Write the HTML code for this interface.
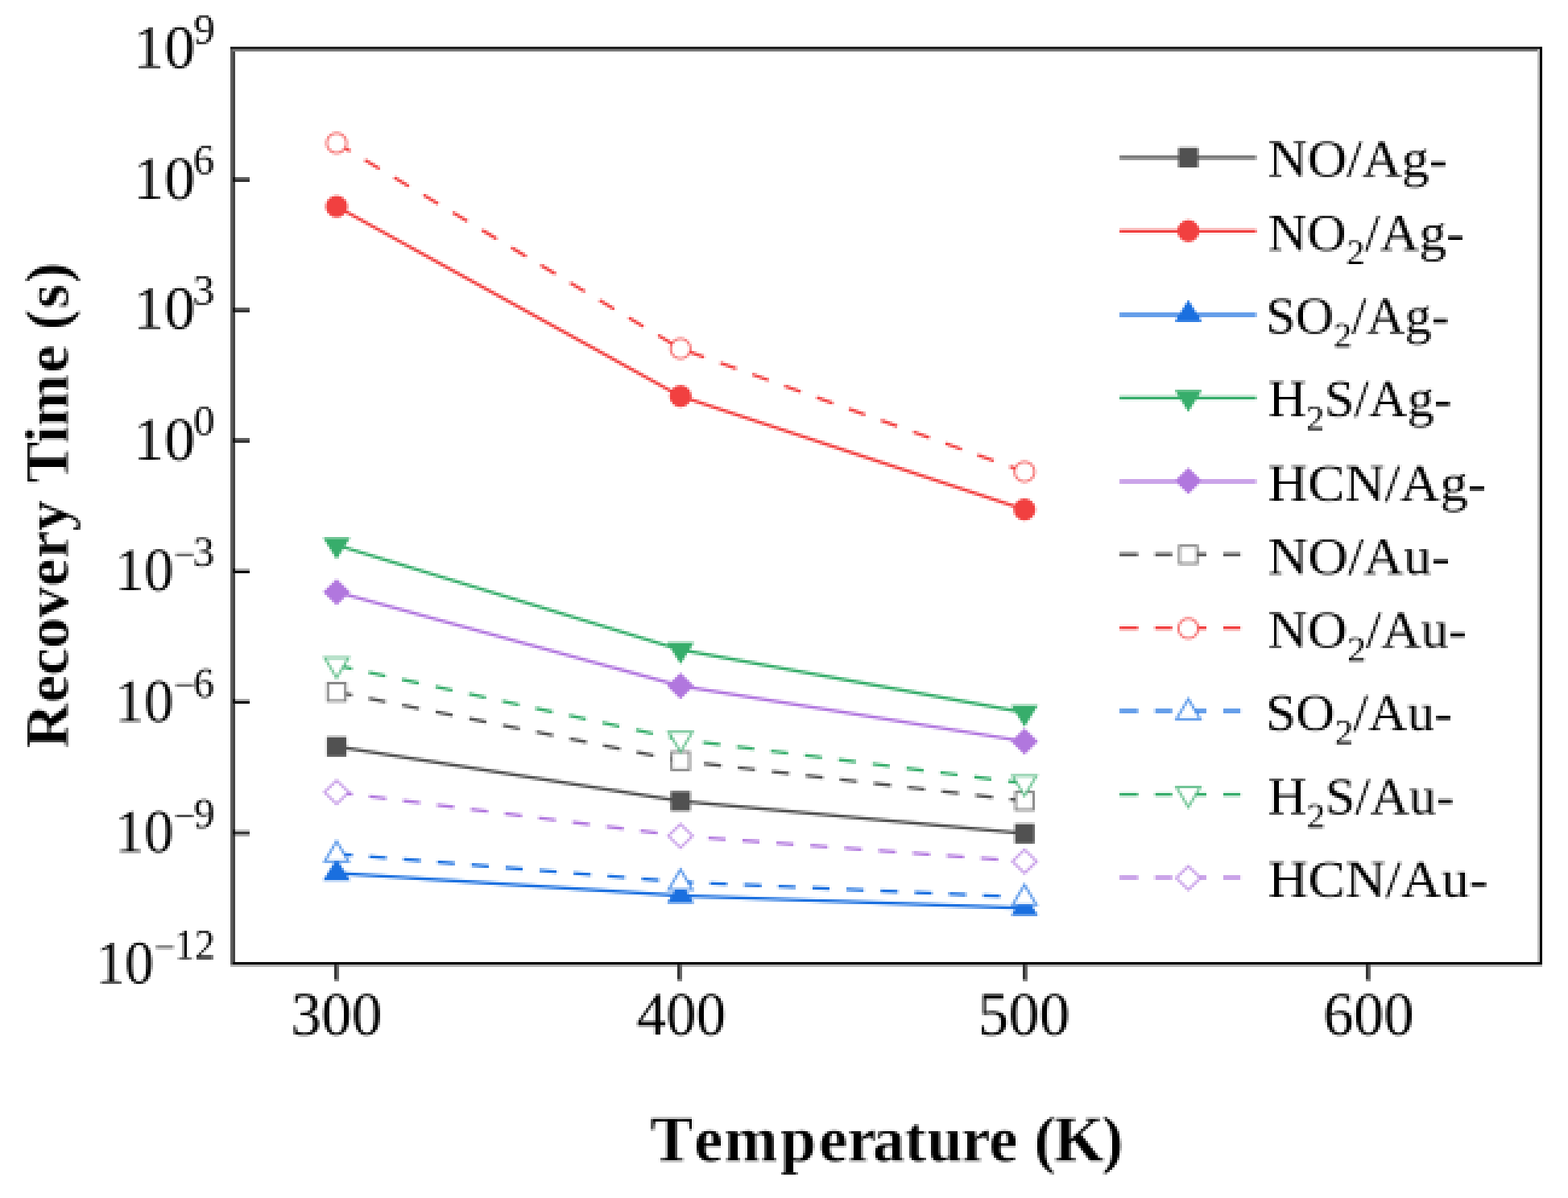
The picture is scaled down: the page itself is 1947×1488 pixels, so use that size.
<!DOCTYPE html>
<html lang="en">
<head>
<meta charset="utf-8">
<style>
html,body{margin:0;padding:0;background:#fff;}
body{width:1947px;height:1488px;}
svg{display:block;}
text{font-family:"Liberation Serif", "DejaVu Serif", serif;}
</style>
</head>
<body>
<svg width="1947" height="1488" viewBox="0 0 1947 1488">
<defs>
<filter id="src3x" x="0" y="0" width="1947" height="1488" filterUnits="userSpaceOnUse" primitiveUnits="userSpaceOnUse" color-interpolation-filters="sRGB">
<feConvolveMatrix in="SourceGraphic" order="3" kernelMatrix="1 1 1 1 1 1 1 1 1" divisor="9" bias="0" targetX="1" targetY="1" edgeMode="duplicate" preserveAlpha="false" result="b"/>
<feFlood x="2" y="2" width="1" height="1" flood-color="#000" flood-opacity="1" result="dot"/>
<feComposite in="dot" in2="dot" operator="over" x="1" y="1" width="3" height="3" result="cell"/>
<feTile in="cell" x="0" y="0" width="1947" height="1488" result="grid"/>
<feComposite in="b" in2="grid" operator="in" result="samp"/>
<feMorphology in="samp" operator="dilate" radius="1"/>
</filter>
</defs>
<g filter="url(#src3x)">
<rect x="-10" y="-10" width="1967" height="1508" fill="#ffffff"/>
<rect x="286.00" y="58.00" width="3.00" height="1143.00" fill="#606060"/>
<rect x="289.00" y="58.00" width="3.00" height="1140.00" fill="#454545"/>
<rect x="286.00" y="58.00" width="1629.00" height="3.00" fill="#222222"/>
<rect x="289.00" y="61.00" width="1623.00" height="3.00" fill="#7a7a7a"/>
<rect x="1909.00" y="61.00" width="3.00" height="1137.00" fill="#bdbdbd"/>
<rect x="1912.00" y="58.00" width="3.00" height="1143.00" fill="#000000"/>
<rect x="289.00" y="1195.00" width="1626.00" height="3.00" fill="#000000"/>
<rect x="286.00" y="1198.00" width="1629.00" height="3.00" fill="#b3b3b3"/>
<rect x="289.00" y="220.00" width="21.00" height="3.00" fill="#606060"/>
<rect x="289.00" y="223.00" width="21.00" height="3.00" fill="#333333"/>
<rect x="289.00" y="220.00" width="3.00" height="6.00" fill="#111111"/>
<rect x="289.00" y="382.00" width="21.00" height="3.00" fill="#606060"/>
<rect x="289.00" y="385.00" width="21.00" height="3.00" fill="#333333"/>
<rect x="289.00" y="382.00" width="3.00" height="6.00" fill="#111111"/>
<rect x="289.00" y="544.00" width="21.00" height="3.00" fill="#606060"/>
<rect x="289.00" y="547.00" width="21.00" height="3.00" fill="#333333"/>
<rect x="289.00" y="544.00" width="3.00" height="6.00" fill="#111111"/>
<rect x="289.00" y="706.00" width="21.00" height="3.00" fill="#aaaaaa"/>
<rect x="289.00" y="709.00" width="21.00" height="3.00" fill="#000000"/>
<rect x="289.00" y="706.00" width="3.00" height="6.00" fill="#111111"/>
<rect x="289.00" y="868.00" width="21.00" height="3.00" fill="#aaaaaa"/>
<rect x="289.00" y="871.00" width="21.00" height="3.00" fill="#000000"/>
<rect x="289.00" y="868.00" width="3.00" height="6.00" fill="#111111"/>
<rect x="289.00" y="1031.00" width="21.00" height="3.00" fill="#aaaaaa"/>
<rect x="289.00" y="1034.00" width="21.00" height="3.00" fill="#000000"/>
<rect x="289.00" y="1031.00" width="3.00" height="6.00" fill="#111111"/>
<rect x="415.00" y="1198.00" width="3.00" height="18.00" fill="#333333"/>
<rect x="418.00" y="1198.00" width="3.00" height="18.00" fill="#686868"/>
<rect x="415.00" y="1216.00" width="6.00" height="3.00" fill="#8a8a8a"/>
<rect x="841.00" y="1198.00" width="3.00" height="18.00" fill="#333333"/>
<rect x="844.00" y="1198.00" width="3.00" height="18.00" fill="#686868"/>
<rect x="841.00" y="1216.00" width="6.00" height="3.00" fill="#8a8a8a"/>
<rect x="1270.00" y="1198.00" width="3.00" height="18.00" fill="#333333"/>
<rect x="1273.00" y="1198.00" width="3.00" height="18.00" fill="#686868"/>
<rect x="1270.00" y="1216.00" width="6.00" height="3.00" fill="#8a8a8a"/>
<rect x="1696.00" y="1198.00" width="3.00" height="18.00" fill="#333333"/>
<rect x="1699.00" y="1198.00" width="3.00" height="18.00" fill="#686868"/>
<rect x="1696.00" y="1216.00" width="6.00" height="3.00" fill="#8a8a8a"/>
<text transform="translate(165.57,84.40) scale(1.0113,1.0000)" font-size="76" font-weight="normal" fill="#000" >10</text>
<text transform="translate(240.43,54.00) scale(1.0136,1.0000)" font-size="52" font-weight="normal" fill="#000" >9</text>
<text transform="translate(165.57,246.80) scale(1.0113,1.0000)" font-size="76" font-weight="normal" fill="#000" >10</text>
<text transform="translate(239.94,216.40) scale(1.0022,1.0000)" font-size="52" font-weight="normal" fill="#000" >6</text>
<text transform="translate(165.57,408.40) scale(1.0113,1.0000)" font-size="76" font-weight="normal" fill="#000" >10</text>
<text transform="translate(239.61,378.00) scale(1.0372,1.0000)" font-size="52" font-weight="normal" fill="#000" >3</text>
<text transform="translate(165.57,570.80) scale(1.0113,1.0000)" font-size="76" font-weight="normal" fill="#000" >10</text>
<text transform="translate(240.17,540.40) scale(1.0136,1.0000)" font-size="52" font-weight="normal" fill="#000" >0</text>
<text transform="translate(142.50,733.40) scale(0.9630,1.0000)" font-size="76" font-weight="normal" fill="#000" >10</text>
<text transform="translate(215.49,705.60) scale(0.9237,1.0000)" font-size="52" font-weight="normal" fill="#000" stroke="#fff" stroke-width="0.325" stroke-linejoin="round" >&#8722;</text>
<text transform="translate(239.85,703.00) scale(1.0186,1.0000)" font-size="52" font-weight="normal" fill="#000" >3</text>
<text transform="translate(142.50,896.20) scale(0.9630,1.0000)" font-size="76" font-weight="normal" fill="#000" >10</text>
<text transform="translate(215.49,868.40) scale(0.9237,1.0000)" font-size="52" font-weight="normal" fill="#000" stroke="#fff" stroke-width="0.325" stroke-linejoin="round" >&#8722;</text>
<text transform="translate(240.19,865.80) scale(0.9843,1.0000)" font-size="52" font-weight="normal" fill="#000" >6</text>
<text transform="translate(142.50,1058.40) scale(0.9630,1.0000)" font-size="76" font-weight="normal" fill="#000" >10</text>
<text transform="translate(215.49,1030.60) scale(0.9237,1.0000)" font-size="52" font-weight="normal" fill="#000" stroke="#fff" stroke-width="0.325" stroke-linejoin="round" >&#8722;</text>
<text transform="translate(240.66,1028.00) scale(0.9955,1.0000)" font-size="52" font-weight="normal" fill="#000" >9</text>
<text transform="translate(118.89,1221.40) scale(0.9494,1.0000)" font-size="76" font-weight="normal" fill="#000" >10</text>
<text transform="translate(191.00,1193.60) scale(0.9196,1.0000)" font-size="52" font-weight="normal" fill="#000" stroke="#fff" stroke-width="0.326" stroke-linejoin="round" >&#8722;</text>
<text transform="translate(216.87,1191.00) scale(0.9631,1.0000)" font-size="52" font-weight="normal" fill="#000" >12</text>
<text transform="translate(361.28,1285.00) scale(0.9921,1.0000)" font-size="76" font-weight="normal" fill="#000" >300</text>
<text transform="translate(790.54,1285.00) scale(0.9717,1.0000)" font-size="76" font-weight="normal" fill="#000" >400</text>
<text transform="translate(1214.50,1285.00) scale(0.9991,1.0000)" font-size="76" font-weight="normal" fill="#000" >500</text>
<text transform="translate(1643.29,1285.00) scale(0.9875,1.0000)" font-size="76" font-weight="normal" fill="#000" >600</text>
<text transform="translate(0,1441.80) scale(1.0000,1.0000)" x="807.60 861.88 899.25 969.03 1016.78 1052.25 1083.42 1123.35 1151.10 1193.90 1228.28 1256.14 1284.00 1308.78 1368.28" y="0" font-size="80" font-weight="bold" fill="#000" stroke="#fff" stroke-width="0.600" stroke-linejoin="round">Temperature (K)</text>
<text transform="translate(84.3,928.2) rotate(-90) translate(0,0.00) scale(1.0000,1.0000)" x="-1.15 55.42 89.12 122.65 160.95 199.98 234.35 268.35 298.25 328.15 377.75 398.68 465.12 491.64 518.15 545.08 576.42" y="0" font-size="77" font-weight="bold" fill="#000" stroke="#fff" stroke-width="0.600" stroke-linejoin="round">Recovery Time (s)</text>
<polyline points="418.0,927.3 845.0,995.0 1272.2,1035.3" fill="none" stroke="#515151" stroke-width="3.9"/>
<rect x="406.10" y="915.40" width="23.80" height="23.80" fill="#515151" stroke="#515151" stroke-width="0.8" stroke-linejoin="miter"/>
<rect x="833.10" y="983.10" width="23.80" height="23.80" fill="#515151" stroke="#515151" stroke-width="0.8" stroke-linejoin="miter"/>
<rect x="1260.30" y="1023.40" width="23.80" height="23.80" fill="#515151" stroke="#515151" stroke-width="0.8" stroke-linejoin="miter"/>
<polyline points="418.0,256.5 845.0,492.1 1272.2,632.9" fill="none" stroke="#F14040" stroke-width="3.9"/>
<circle cx="418.00" cy="256.50" r="13.30" fill="#F14040" stroke="#F14040" stroke-width="0.8" stroke-linejoin="miter"/>
<circle cx="845.00" cy="492.10" r="13.30" fill="#F14040" stroke="#F14040" stroke-width="0.8" stroke-linejoin="miter"/>
<circle cx="1272.20" cy="632.90" r="13.30" fill="#F14040" stroke="#F14040" stroke-width="0.8" stroke-linejoin="miter"/>
<polyline points="418.0,1084.5 845.0,1112.5 1272.2,1128.0" fill="none" stroke="#1A6FDF" stroke-width="3.9"/>
<polygon points="418.00,1067.20 434.20,1093.30 401.80,1093.30" fill="#1A6FDF" stroke="#1A6FDF" stroke-width="0.8" stroke-linejoin="miter"/>
<polygon points="845.00,1095.20 861.20,1121.30 828.80,1121.30" fill="#1A6FDF" stroke="#1A6FDF" stroke-width="0.8" stroke-linejoin="miter"/>
<polygon points="1272.20,1110.70 1288.40,1136.80 1256.00,1136.80" fill="#1A6FDF" stroke="#1A6FDF" stroke-width="0.8" stroke-linejoin="miter"/>
<polyline points="418.0,677.0 845.0,807.0 1272.2,885.0" fill="none" stroke="#37AD6B" stroke-width="3.9"/>
<polygon points="418.00,694.30 434.20,668.20 401.80,668.20" fill="#37AD6B" stroke="#37AD6B" stroke-width="0.8" stroke-linejoin="miter"/>
<polygon points="845.00,824.30 861.20,798.20 828.80,798.20" fill="#37AD6B" stroke="#37AD6B" stroke-width="0.8" stroke-linejoin="miter"/>
<polygon points="1272.20,902.30 1288.40,876.20 1256.00,876.20" fill="#37AD6B" stroke="#37AD6B" stroke-width="0.8" stroke-linejoin="miter"/>
<polyline points="418.0,735.4 845.0,852.0 1272.2,920.9" fill="none" stroke="#B177DE" stroke-width="3.9"/>
<polygon points="418.00,719.40 434.40,735.40 418.00,751.40 401.60,735.40" fill="#B177DE" stroke="#B177DE" stroke-width="0.8" stroke-linejoin="miter"/>
<polygon points="845.00,836.00 861.40,852.00 845.00,868.00 828.60,852.00" fill="#B177DE" stroke="#B177DE" stroke-width="0.8" stroke-linejoin="miter"/>
<polygon points="1272.20,904.90 1288.60,920.90 1272.20,936.90 1255.80,920.90" fill="#B177DE" stroke="#B177DE" stroke-width="0.8" stroke-linejoin="miter"/>
<polyline points="418.0,859.5 845.0,945.1 1272.2,994.8" fill="none" stroke="#515151" stroke-width="3.9" stroke-dasharray="21.4 21.03" stroke-dashoffset="1.7"/>
<rect x="406.93" y="848.42" width="22.15" height="22.15" fill="#fff" stroke="#515151" stroke-opacity="0.7" stroke-width="3" stroke-linejoin="miter"/>
<rect x="833.92" y="934.02" width="22.15" height="22.15" fill="#fff" stroke="#515151" stroke-opacity="0.7" stroke-width="3" stroke-linejoin="miter"/>
<rect x="1261.12" y="983.72" width="22.15" height="22.15" fill="#fff" stroke="#515151" stroke-opacity="0.7" stroke-width="3" stroke-linejoin="miter"/>
<polyline points="418.0,177.7 845.0,433.1 1272.2,585.9" fill="none" stroke="#F14040" stroke-width="3.9" stroke-dasharray="21.4 21.03" stroke-dashoffset="1.7"/>
<circle cx="418.00" cy="177.70" r="12.25" fill="#fff" stroke="#F14040" stroke-opacity="0.7" stroke-width="3" stroke-linejoin="miter"/>
<circle cx="845.00" cy="433.10" r="12.25" fill="#fff" stroke="#F14040" stroke-opacity="0.7" stroke-width="3" stroke-linejoin="miter"/>
<circle cx="1272.20" cy="585.90" r="12.25" fill="#fff" stroke="#F14040" stroke-opacity="0.7" stroke-width="3" stroke-linejoin="miter"/>
<polyline points="418.0,1060.5 845.0,1095.5 1272.2,1114.5" fill="none" stroke="#1A6FDF" stroke-width="3.9" stroke-dasharray="21.4 21.03" stroke-dashoffset="1.7"/>
<polygon points="418.00,1045.00 432.85,1070.05 403.15,1070.05" fill="#fff" stroke="#1A6FDF" stroke-opacity="0.7" stroke-width="3" stroke-linejoin="miter"/>
<polygon points="845.00,1080.00 859.85,1105.05 830.15,1105.05" fill="#fff" stroke="#1A6FDF" stroke-opacity="0.7" stroke-width="3" stroke-linejoin="miter"/>
<polygon points="1272.20,1099.00 1287.05,1124.05 1257.35,1124.05" fill="#fff" stroke="#1A6FDF" stroke-opacity="0.7" stroke-width="3" stroke-linejoin="miter"/>
<polyline points="418.0,826.5 845.0,918.5 1272.2,973.0" fill="none" stroke="#37AD6B" stroke-width="3.9" stroke-dasharray="21.4 21.03" stroke-dashoffset="1.7"/>
<polygon points="418.00,842.00 432.85,816.95 403.15,816.95" fill="#fff" stroke="#37AD6B" stroke-opacity="0.7" stroke-width="3" stroke-linejoin="miter"/>
<polygon points="845.00,934.00 859.85,908.95 830.15,908.95" fill="#fff" stroke="#37AD6B" stroke-opacity="0.7" stroke-width="3" stroke-linejoin="miter"/>
<polygon points="1272.20,988.50 1287.05,963.45 1257.35,963.45" fill="#fff" stroke="#37AD6B" stroke-opacity="0.7" stroke-width="3" stroke-linejoin="miter"/>
<polyline points="418.0,984.0 845.0,1038.3 1272.2,1069.9" fill="none" stroke="#B177DE" stroke-width="3.9" stroke-dasharray="21.4 21.03" stroke-dashoffset="1.7"/>
<polygon points="418.00,969.35 433.05,984.00 418.00,998.65 402.95,984.00" fill="#fff" stroke="#B177DE" stroke-opacity="0.7" stroke-width="3" stroke-linejoin="miter"/>
<polygon points="845.00,1023.65 860.05,1038.30 845.00,1052.95 829.95,1038.30" fill="#fff" stroke="#B177DE" stroke-opacity="0.7" stroke-width="3" stroke-linejoin="miter"/>
<polygon points="1272.20,1055.25 1287.25,1069.90 1272.20,1084.55 1257.15,1069.90" fill="#fff" stroke="#B177DE" stroke-opacity="0.7" stroke-width="3" stroke-linejoin="miter"/>
<line x1="1390.2" y1="195.7" x2="1560.0" y2="195.7" stroke="#515151" stroke-width="4.1"/>
<rect x="1463.70" y="183.80" width="23.80" height="23.80" fill="#515151" stroke="#515151" stroke-width="0.8" stroke-linejoin="miter"/>
<text transform="translate(1574.34,219.10) scale(1.0302,1.0000)" font-size="66" font-weight="normal" fill="#000" >NO/Ag-</text>
<line x1="1390.2" y1="287.1" x2="1560.0" y2="287.1" stroke="#F14040" stroke-width="4.1"/>
<circle cx="1475.60" cy="286.90" r="13.30" fill="#F14040" stroke="#F14040" stroke-width="0.8" stroke-linejoin="miter"/>
<text transform="translate(1574.36,311.00) scale(1.0217,1.0000)" font-size="66" font-weight="normal" fill="#000" >NO<tspan font-size="45" dy="17.0">2</tspan><tspan dy="-17.0">/Ag-</tspan></text>
<line x1="1390.2" y1="391.0" x2="1560.0" y2="391.0" stroke="#1A6FDF" stroke-width="4.1"/>
<polygon points="1475.60,373.10 1491.80,399.20 1459.40,399.20" fill="#1A6FDF" stroke="#1A6FDF" stroke-width="0.8" stroke-linejoin="miter"/>
<text transform="translate(1571.91,413.90) scale(0.9982,1.0000)" font-size="66" font-weight="normal" fill="#000" >SO<tspan font-size="45" dy="17.0">2</tspan><tspan dy="-17.0">/Ag-</tspan></text>
<line x1="1390.2" y1="494.2" x2="1560.0" y2="494.2" stroke="#37AD6B" stroke-width="4.1"/>
<polygon points="1475.60,511.10 1491.80,485.00 1459.40,485.00" fill="#37AD6B" stroke="#37AD6B" stroke-width="0.8" stroke-linejoin="miter"/>
<text transform="translate(1574.40,517.00) scale(1.0013,1.0000)" font-size="66" font-weight="normal" fill="#000" >H<tspan font-size="45" dy="17.0">2</tspan><tspan dy="-17.0">S/Ag-</tspan></text>
<line x1="1390.2" y1="598.0" x2="1560.0" y2="598.0" stroke="#B177DE" stroke-width="4.1"/>
<polygon points="1475.60,581.30 1492.00,597.30 1475.60,613.30 1459.20,597.30" fill="#B177DE" stroke="#B177DE" stroke-width="0.8" stroke-linejoin="miter"/>
<text transform="translate(1574.32,621.50) scale(1.0414,1.0000)" font-size="66" font-weight="normal" fill="#000" >HCN/Ag-</text>
<line x1="1390.2" y1="688.6" x2="1560.0" y2="688.6" stroke="#515151" stroke-width="4.1" stroke-dasharray="23 20.9 21.4 21.03 21.4 21.03 21.4 60"/>
<rect x="1464.52" y="677.92" width="22.15" height="22.15" fill="#fff" stroke="#515151" stroke-opacity="0.7" stroke-width="3" stroke-linejoin="miter"/>
<text transform="translate(1574.31,713.00) scale(1.0453,1.0000)" font-size="66" font-weight="normal" fill="#000" >NO/Au-</text>
<line x1="1390.2" y1="779.9" x2="1560.0" y2="779.9" stroke="#F14040" stroke-width="4.1" stroke-dasharray="23 20.9 21.4 21.03 21.4 21.03 21.4 60"/>
<circle cx="1475.60" cy="780.60" r="12.25" fill="#fff" stroke="#F14040" stroke-opacity="0.7" stroke-width="3" stroke-linejoin="miter"/>
<text transform="translate(1574.33,804.30) scale(1.0345,1.0000)" font-size="66" font-weight="normal" fill="#000" >NO<tspan font-size="45" dy="17.0">2</tspan><tspan dy="-17.0">/Au-</tspan></text>
<line x1="1390.2" y1="883.0" x2="1560.0" y2="883.0" stroke="#1A6FDF" stroke-width="4.1" stroke-dasharray="23 20.9 21.4 21.03 21.4 21.03 21.4 60"/>
<polygon points="1475.60,868.20 1490.45,893.25 1460.75,893.25" fill="#fff" stroke="#1A6FDF" stroke-opacity="0.7" stroke-width="3" stroke-linejoin="miter"/>
<text transform="translate(1571.83,906.80) scale(1.0158,1.0000)" font-size="66" font-weight="normal" fill="#000" >SO<tspan font-size="45" dy="17.0">2</tspan><tspan dy="-17.0">/Au-</tspan></text>
<line x1="1390.2" y1="986.8" x2="1560.0" y2="986.8" stroke="#37AD6B" stroke-width="4.1" stroke-dasharray="23 20.9 21.4 21.03 21.4 21.03 21.4 60"/>
<polygon points="1475.60,1002.60 1490.45,977.55 1460.75,977.55" fill="#fff" stroke="#37AD6B" stroke-opacity="0.7" stroke-width="3" stroke-linejoin="miter"/>
<text transform="translate(1574.37,1011.20) scale(1.0148,1.0000)" font-size="66" font-weight="normal" fill="#000" >H<tspan font-size="45" dy="17.0">2</tspan><tspan dy="-17.0">S/Au-</tspan></text>
<line x1="1390.2" y1="1090.0" x2="1560.0" y2="1090.0" stroke="#B177DE" stroke-width="4.1" stroke-dasharray="23 20.9 21.4 21.03 21.4 21.03 21.4 60"/>
<polygon points="1475.60,1075.85 1490.65,1090.50 1475.60,1105.15 1460.55,1090.50" fill="#fff" stroke="#B177DE" stroke-opacity="0.7" stroke-width="3" stroke-linejoin="miter"/>
<text transform="translate(1574.30,1114.30) scale(1.0500,1.0000)" font-size="66" font-weight="normal" fill="#000" >HCN/Au-</text>
</g>
</svg>
</body>
</html>
